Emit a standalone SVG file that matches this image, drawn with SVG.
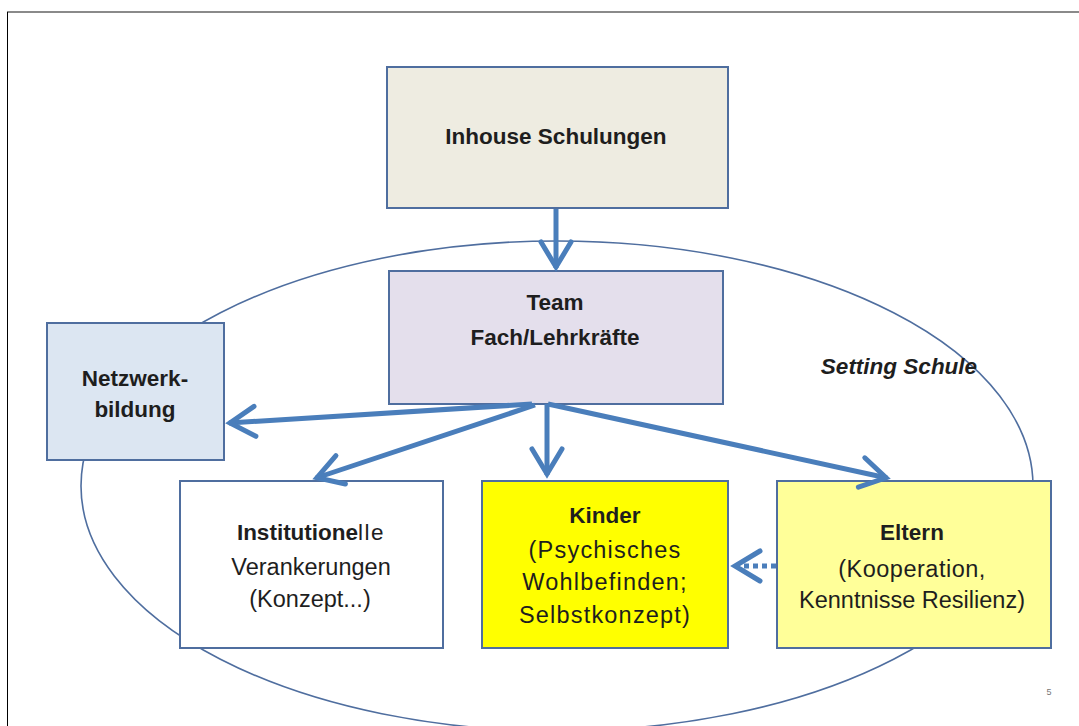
<svg xmlns="http://www.w3.org/2000/svg" width="1079" height="726" viewBox="0 0 1079 726">
  <defs>
    <style>
      .box { stroke: #4F6E9F; stroke-width: 2; }
      .arrow { stroke: #4A7EBB; stroke-width: 5; fill: none; }
      .b { font-family: "Liberation Sans", Arial, sans-serif; font-weight: bold; font-size: 22.5px; fill: #1E1E1E; text-anchor: middle; }
      .r { font-family: "Liberation Sans", Arial, sans-serif; font-size: 23.5px; fill: #1E1E1E; text-anchor: middle; }
      .sp { letter-spacing: 1.2px; }
    </style>
    <marker id="chev" markerUnits="userSpaceOnUse" markerWidth="50" markerHeight="50" viewBox="-35 -25 50 50" refX="0" refY="0" orient="auto" overflow="visible">
      <path d="M-26,-15 L-1,0 L-26,15" fill="none" stroke="#4A7EBB" stroke-width="5" stroke-linejoin="miter" stroke-linecap="round"/>
    </marker>
  </defs>

  <!-- frame -->
  <line x1="7" y1="12" x2="1079" y2="12" stroke="#8A8A8A" stroke-width="2"/>
  <line x1="7.5" y1="12" x2="7.5" y2="726" stroke="#000" stroke-width="1"/>

  <!-- setting ellipse -->
  <ellipse id="setting" cx="557" cy="486" rx="476" ry="245" fill="none" stroke="#4F6E9F" stroke-width="1.6"/>

  <g id="inhouse">
    <rect class="box" x="387" y="67" width="341" height="141" fill="#EEECE1"/>
    <text class="b" x="556" y="144">Inhouse Schulungen</text>
  </g>

  <g id="team">
    <rect class="box" x="389" y="271" width="334" height="133" fill="#E4DFEC"/>
    <text class="b" x="555" y="310">Team</text>
    <text class="b" x="555" y="345">Fach/Lehrkräfte</text>
  </g>

  <g id="netzwerk">
    <rect class="box" x="47" y="323" width="177" height="137" fill="#DCE6F2"/>
    <text class="b" x="135" y="386">Netzwerk-</text>
    <text class="b" x="135" y="417">bildung</text>
  </g>

  <g id="institutionelle">
    <rect class="box" x="180" y="481" width="263" height="167" fill="#FFFFFF"/>
    <text class="b" x="311" y="540">Institutione<tspan font-weight="normal" letter-spacing="1.5">lle</tspan></text>
    <text class="r" x="311" y="575">Verankerungen</text>
    <text class="r" x="310" y="607">(Konzept...)</text>
  </g>

  <g id="kinder">
    <rect class="box" x="482" y="481" width="246" height="167" fill="#FFFF00"/>
    <text class="b" x="605" y="523">Kinder</text>
    <text class="r sp" x="605" y="558">(Psychisches</text>
    <text class="r sp" x="605" y="590">Wohlbefinden;</text>
    <text class="r sp" x="605" y="623">Selbstkonzept)</text>
  </g>

  <g id="eltern">
    <rect class="box" x="777" y="481" width="274" height="167" fill="#FFFF99"/>
    <text class="b" x="912" y="540">Eltern</text>
    <text class="r" x="912" y="577" letter-spacing="0.5">(Kooperation,</text>
    <text class="r" x="912" y="608">Kenntnisse Resilienz)</text>
  </g>

  <g id="setting-label">
    <text class="b" x="899" y="374" font-style="italic">Setting Schule</text>
  </g>

  <g id="page-number">
    <text x="1049" y="695" font-family="Liberation Sans, Arial, sans-serif" font-size="9" fill="#777" text-anchor="middle">5</text>
  </g>

  <g id="connectors">
    <line class="arrow" x1="556" y1="209" x2="556" y2="268" marker-end="url(#chev)"/>
    <line class="arrow" x1="532" y1="404" x2="229" y2="423" marker-end="url(#chev)"/>
    <line class="arrow" x1="535" y1="405" x2="316" y2="478" marker-end="url(#chev)"/>
    <line class="arrow" x1="547" y1="404" x2="547" y2="475" marker-end="url(#chev)"/>
    <line class="arrow" x1="548" y1="404" x2="887" y2="478" marker-end="url(#chev)"/>
    <line class="arrow" x1="776" y1="566" x2="734" y2="566" stroke-dasharray="5 4" marker-end="url(#chev)"/>
  </g>
</svg>
